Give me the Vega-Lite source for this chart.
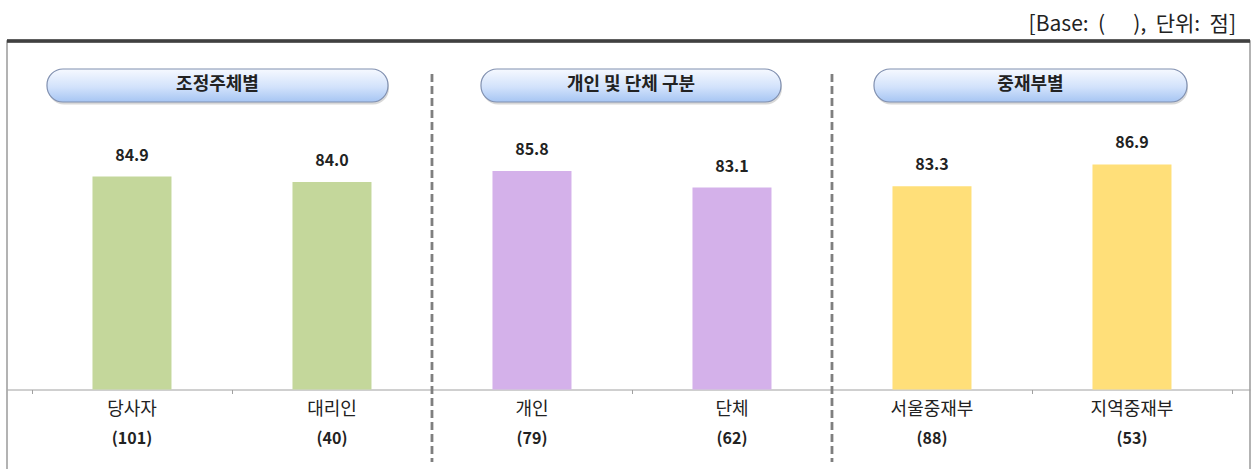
{
  "$schema": "https://vega.github.io/schema/vega-lite/v6.json",
  "width": 1243,
  "height": 430,
  "autosize": {"type": "none"},
  "padding": {"left": 7, "top": 41, "right": 2, "bottom": 0},
  "background": "white",
  "title": {
    "text": "[Base:\u00a0\u00a0(\u00a0\u00a0\u00a0\u00a0\u00a0\u00a0),\u00a0\u00a0단위:\u00a0\u00a0점]",
    "anchor": "end",
    "orient": "top",
    "frame": "group",
    "fontSize": 21,
    "fontWeight": "normal",
    "font": "Noto Sans CJK KR",
    "color": "#222222",
    "offset": 5,
    "dx": -14
  },
  "config": {
    "view": {"stroke": "#9a9a9a", "strokeWidth": 1.5},
    "font": "Noto Sans CJK KR"
  },
  "datasets": {
    "bars": [
      {"cat": "당사자", "n": "(101)", "value": 84.9, "grp": "조정주체별"},
      {"cat": "대리인", "n": "(40)", "value": 84.0, "grp": "조정주체별"},
      {"cat": "개인", "n": "(79)", "value": 85.8, "grp": "개인 및 단체 구분"},
      {"cat": "단체", "n": "(62)", "value": 83.1, "grp": "개인 및 단체 구분"},
      {"cat": "서울중재부", "n": "(88)", "value": 83.3, "grp": "중재부별"},
      {"cat": "지역중재부", "n": "(53)", "value": 86.9, "grp": "중재부별"}
    ],
    "pills": [
      {"label": "조정주체별", "first": "당사자", "last": "대리인"},
      {"label": "개인 및 단체 구분", "first": "개인", "last": "단체"},
      {"label": "중재부별", "first": "서울중재부", "last": "지역중재부"}
    ],
    "seps": [
      {"cat": "개인"},
      {"cat": "서울중재부"}
    ]
  },
  "layer": [
    {
      "data": {"name": "bars"},
      "mark": {"type": "rule", "color": "#404040", "strokeWidth": 2.5},
      "encoding": {
        "y": {"datum": 107.131, "type": "quantitative", "scale": {"domain": [36.639, 107.131], "nice": false, "zero": false}, "axis": null}
      }
    },
    {
      "data": {"name": "bars"},
      "mark": {"type": "bar", "width": {"band": 0.395}},
      "encoding": {
        "x": {
          "field": "cat", "type": "nominal",
          "scale": {"domain": ["당사자", "대리인", "개인", "단체", "서울중재부", "지역중재부"], "paddingInner": 0, "paddingOuter": 0.1075, "align": 0.581},
          "axis": {"title": null, "labels": false, "domain": true, "domainColor": "#a0a0a0", "domainWidth": 1, "ticks": true, "tickColor": "#a0a0a0", "tickSize": 4, "tickBand": "extent", "offset": -81.5, "grid": false}
        },
        "y": {"field": "value", "type": "quantitative", "scale": {"domain": [36.639, 107.131], "nice": false, "zero": false}, "axis": null},
        "y2": {"datum": 50},
        "color": {
          "field": "grp", "type": "nominal",
          "scale": {"domain": ["조정주체별", "개인 및 단체 구분", "중재부별"], "range": ["#c4d79b", "#d4b1ea", "#ffdf79"]},
          "legend": null
        }
      }
    },
    {
      "data": {"name": "bars"},
      "mark": {"type": "text", "baseline": "middle", "dy": -21, "fontSize": 16, "fontWeight": "bold", "color": "#222222"},
      "encoding": {
        "x": {"field": "cat", "type": "nominal"},
        "y": {"field": "value", "type": "quantitative"},
        "text": {"field": "value", "type": "quantitative", "format": ".1f"}
      }
    },
    {
      "data": {"name": "bars"},
      "mark": {"type": "text", "baseline": "middle", "dy": 20.5, "fontSize": 18, "fontWeight": "normal", "color": "#222222"},
      "encoding": {
        "x": {"field": "cat", "type": "nominal"},
        "y": {"datum": 50},
        "text": {"field": "cat", "type": "nominal"}
      }
    },
    {
      "data": {"name": "bars"},
      "mark": {"type": "text", "baseline": "middle", "dy": 49.5, "fontSize": 16, "fontWeight": "bold", "color": "#222222"},
      "encoding": {
        "x": {"field": "cat", "type": "nominal"},
        "y": {"datum": 50},
        "text": {"field": "n", "type": "nominal"}
      }
    },
    {
      "data": {"name": "seps"},
      "mark": {"type": "rule", "color": "#7f7f7f", "strokeWidth": 2.8, "strokeDash": [8, 4]},
      "encoding": {
        "x": {"field": "cat", "type": "nominal", "bandPosition": 0},
        "y": {"datum": 101.721},
        "y2": {"datum": 38.115}
      }
    },
    {
      "data": {"name": "pills"},
      "transform": [{"filter": "datum.label == '조정주체별'"}],
      "layer": [
        {
          "mark": {"type": "rect", "cornerRadius": 16, "fill": "#b8b8b8", "opacity": 0.55},
          "encoding": {
            "x": {"field": "first", "type": "nominal", "bandPosition": 0.08},
            "x2": {"field": "last", "bandPosition": 0.785},
            "y": {"datum": 102.131},
            "y2": {"datum": 96.721}
          }
        },
        {
          "mark": {"type": "rect", "cornerRadius": 16, "stroke": "#8090b0", "strokeWidth": 1.2,
            "fill": {"gradient": "linear", "x1": 0, "y1": 0, "x2": 0, "y2": 1, "stops": [{"offset": 0, "color": "#f6f9ff"}, {"offset": 0.55, "color": "#d2e2fb"}, {"offset": 1, "color": "#a6c5f3"}]}},
          "encoding": {
            "x": {"field": "first", "type": "nominal", "bandPosition": 0.075},
            "x2": {"field": "last", "bandPosition": 0.78},
            "y": {"datum": 102.541},
            "y2": {"datum": 97.131}
          }
        },
        {
          "mark": {"type": "text", "baseline": "middle", "fontSize": 18, "fontWeight": "bold", "color": "#222222"},
          "encoding": {
            "x": {"field": "first", "type": "nominal", "bandPosition": 0.9275},
            "y": {"datum": 99.836},
            "text": {"field": "label", "type": "nominal"}
          }
        }
      ]
    },
    {
      "data": {"name": "pills"},
      "transform": [{"filter": "datum.label == '개인 및 단체 구분'"}],
      "layer": [
        {
          "mark": {"type": "rect", "cornerRadius": 16, "fill": "#b8b8b8", "opacity": 0.55},
          "encoding": {
            "x": {"field": "first", "type": "nominal", "bandPosition": 0.25},
            "x2": {"field": "last", "bandPosition": 0.75},
            "y": {"datum": 102.131},
            "y2": {"datum": 96.721}
          }
        },
        {
          "mark": {"type": "rect", "cornerRadius": 16, "stroke": "#8090b0", "strokeWidth": 1.2,
            "fill": {"gradient": "linear", "x1": 0, "y1": 0, "x2": 0, "y2": 1, "stops": [{"offset": 0, "color": "#f6f9ff"}, {"offset": 0.55, "color": "#d2e2fb"}, {"offset": 1, "color": "#a6c5f3"}]}},
          "encoding": {
            "x": {"field": "first", "type": "nominal", "bandPosition": 0.245},
            "x2": {"field": "last", "bandPosition": 0.745},
            "y": {"datum": 102.541},
            "y2": {"datum": 97.131}
          }
        },
        {
          "mark": {"type": "text", "baseline": "middle", "fontSize": 18, "fontWeight": "bold", "color": "#222222"},
          "encoding": {
            "x": {"field": "first", "type": "nominal", "bandPosition": 0.995},
            "y": {"datum": 99.836},
            "text": {"field": "label", "type": "nominal"}
          }
        }
      ]
    },
    {
      "data": {"name": "pills"},
      "transform": [{"filter": "datum.label == '중재부별'"}],
      "layer": [
        {
          "mark": {"type": "rect", "cornerRadius": 16, "fill": "#b8b8b8", "opacity": 0.55},
          "encoding": {
            "x": {"field": "first", "type": "nominal", "bandPosition": 0.215},
            "x2": {"field": "last", "bandPosition": 0.78},
            "y": {"datum": 102.131},
            "y2": {"datum": 96.721}
          }
        },
        {
          "mark": {"type": "rect", "cornerRadius": 16, "stroke": "#8090b0", "strokeWidth": 1.2,
            "fill": {"gradient": "linear", "x1": 0, "y1": 0, "x2": 0, "y2": 1, "stops": [{"offset": 0, "color": "#f6f9ff"}, {"offset": 0.55, "color": "#d2e2fb"}, {"offset": 1, "color": "#a6c5f3"}]}},
          "encoding": {
            "x": {"field": "first", "type": "nominal", "bandPosition": 0.21},
            "x2": {"field": "last", "bandPosition": 0.775},
            "y": {"datum": 102.541},
            "y2": {"datum": 97.131}
          }
        },
        {
          "mark": {"type": "text", "baseline": "middle", "fontSize": 18, "fontWeight": "bold", "color": "#222222"},
          "encoding": {
            "x": {"field": "first", "type": "nominal", "bandPosition": 0.9925},
            "y": {"datum": 99.836},
            "text": {"field": "label", "type": "nominal"}
          }
        }
      ]
    }
  ]
}
